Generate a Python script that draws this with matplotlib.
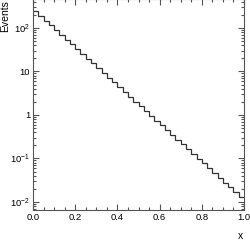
import numpy as np
import matplotlib
matplotlib.use('Agg')
import matplotlib.pyplot as plt
from matplotlib.ticker import FixedLocator, LogLocator, NullFormatter, FixedFormatter

plt.rcParams['font.family'] = ['Liberation Sans', 'DejaVu Sans']
plt.rcParams['mathtext.fontset'] = 'custom'
plt.rcParams['mathtext.rm'] = 'Liberation Sans'
plt.rcParams['mathtext.it'] = 'Liberation Sans:italic'

# 40 bins on [0, 1]
bin_edges = np.linspace(0.0, 1.0, 41)
counts = [245, 190, 148, 115, 89, 69, 54, 42, 32.6, 25.3,
          19.7, 15.3, 11.9, 9.2, 7.2, 5.6, 4.3, 3.36, 2.61, 2.03,
          1.58, 1.22, 0.95, 0.74, 0.575, 0.447, 0.347, 0.27, 0.21, 0.163,
          0.127, 0.0984, 0.0765, 0.0594, 0.0462, 0.0359, 0.0279, 0.0217, 0.0168, 0.0131]

y_ticks = [1e-2, 1e-1, 1, 10, 1e2]
y_labels = ['$10^{-2}$', '$10^{-1}$', '1', '10', '$10^{2}$']

fig = plt.figure(figsize=(2.5, 2.41), dpi=100)
ax = fig.add_axes([0.132, 0.129, 0.844, 0.874])

ax.stairs(counts, bin_edges, baseline=None, color='#333333', linewidth=0.9)

ax.set_yscale('log')
ax.set_xlim(0.0, 1.0)
ax.set_ylim(0.00655, 457)

ax.set_xticks([0.0, 0.2, 0.4, 0.6, 0.8, 1.0])
ax.set_xticklabels(['0.0', '0.2', '0.4', '0.6', '0.8', '1.0'])
ax.xaxis.set_minor_locator(FixedLocator(np.arange(0.0, 1.0001, 0.05)))
ax.yaxis.set_major_locator(FixedLocator(y_ticks))
ax.yaxis.set_major_formatter(FixedFormatter(y_labels))
ax.yaxis.set_minor_locator(LogLocator(base=10, subs=np.arange(2, 10)))
ax.yaxis.set_minor_formatter(NullFormatter())

ax.tick_params(which='both', direction='in', top=True, right=True,
               labelsize=6.8, color='#555555', width=0.8)
ax.tick_params(which='major', length=4.3, pad=2)
ax.tick_params(which='minor', length=2.2)
for s in ax.spines.values():
    s.set_color('#555555')
    s.set_linewidth(0.8)

fig.text(0.974, 0.009, 'x', fontsize=7.5, ha='right', va='baseline')
fig.text(0.022, 0.999, 'Events', fontsize=7.5, rotation=90, ha='center', va='top')

fig.savefig('out.png', dpi=100)
